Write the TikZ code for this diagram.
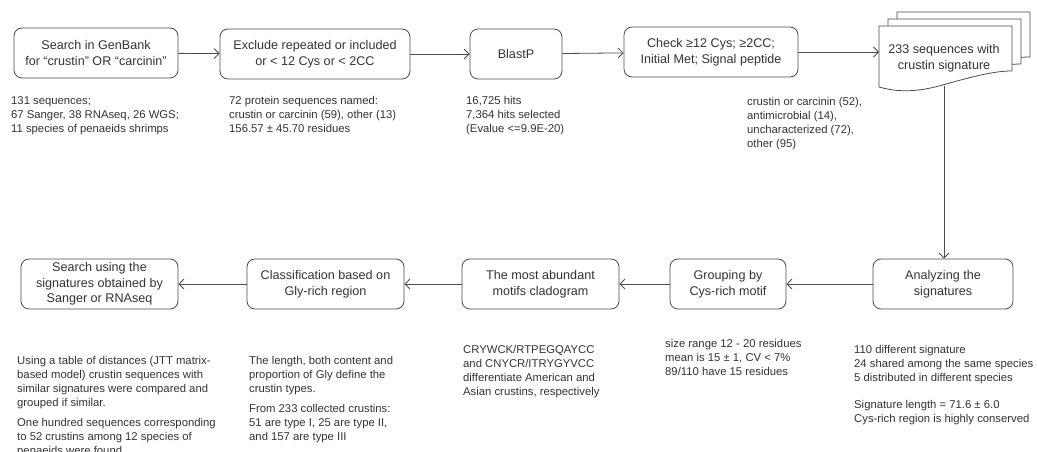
\documentclass[tikz,border=0pt]{standalone}
\usepackage{fontspec}
\setmainfont{Liberation Sans}
\usetikzlibrary{arrows.meta}
\begin{document}
\begin{tikzpicture}[x=1bp,y=-1bp,
  box/.style={draw=black!70, line width=0.8bp, rounded corners=8bp, align=center, text=black!80,
    font=\fontsize{12.6bp}{15.5bp}\selectfont, inner sep=0pt, minimum height=50bp},
  note/.style={anchor=north west, align=left, inner sep=0pt, text=black!80,
    font=\fontsize{11.3bp}{14bp}\selectfont},
  conn/.style={draw=black!70, line width=0.8bp, -{Straight Barb[length=5bp,width=10bp]}},
  page/.style={draw=black!70, line width=0.8bp, fill=white},
]
\useasboundingbox (0,0) rectangle (1037,452);

% top row
\node[box, minimum width=164bp] (b1) at (96,53) {Search in GenBank\\for “crustin” OR “carcinin”};
\node[box, minimum width=190bp] (b2) at (315,54) {Exclude repeated or included\\or < 12 Cys or < 2CC};
\node[box, minimum width=92bp] (b3) at (516,54) {BlastP};
\node[box, minimum width=174bp] (b4) at (711,52) {Check ≥12 Cys; ≥2CC;\\Initial Met;  Signal peptide};

% multi-document
\foreach \dx/\dy in {18/-14, 9/-7, 0/0}{
  \path[page, shift={(\dx,\dy)}] (879,26) -- (1012,26) -- (1012,71)
    .. controls (990,71) and (965,79) .. (935,87)
    .. controls (910,93) and (893,91) .. (879,87) -- cycle;
}
\node[align=center, text=black!80, font=\fontsize{12.6bp}{15.5bp}\selectfont, inner sep=0pt] (doc) at (944,58) {233 sequences with\\crustin signature};
\coordinate (docw) at (879,52);
\coordinate (docb) at (944,86);

% bottom row
\node[box, minimum width=157bp] (bA) at (99.5,284) {Search using the\\signatures obtained by\\Sanger or RNAseq};
\node[box, minimum width=157bp] (bB) at (325.5,284) {Classification based on\\Gly-rich region};
\node[box, minimum width=157bp] (bC) at (540.5,284) {The most abundant\\motifs cladogram};
\node[box, minimum width=116bp] (bD) at (728,284) {Grouping by\\Cys-rich motif};
\node[box, minimum width=140bp] (bE) at (943,284) {Analyzing the\\signatures};

% connectors
\draw[conn] (b1) -- (b2);
\draw[conn] (b2) -- (b3);
\draw[conn] (b3) -- (b4);
\draw[conn] (b4.east |- docw) -- (docw);
\draw[conn] (docb) -- (docb |- bE.north);
\draw[conn] (bE) -- (bD);
\draw[conn] (bD) -- (bC);
\draw[conn] (bC) -- (bB);
\draw[conn] (bB) -- (bA);

% notes
\node[note] (n1) at (11,96) {131 sequences;\\67 Sanger, 38 RNAseq, 26 WGS;\\11 species of penaeids shrimps};
\node[note] (n2) at (229,96) {72 protein sequences named:\\crustin or carcinin (59), other (13)\\156.57 ± 45.70 residues};
\node[note] (n3) at (466,96) {16,725 hits\\7,364 hits selected\\(Evalue  <=9.9E-20)};
\node[note] (n4) at (747,97) {crustin or carcinin (52),\\antimicrobial (14),\\uncharacterized (72),\\other (95)};

\node[note] (nA) at (17,356) {Using a table of distances (JTT  matrix-\\based model) crustin sequences with\\similar signatures were compared and\\grouped  if similar.\\[6bp]One hundred  sequences corresponding\\to 52 crustins among  12 species of\\penaeids were found};
\node[note] (nB) at (249,356) {The length, both content and\\proportion of Gly define the\\crustin types.\\[6bp]From 233 collected crustins:\\51 are type I, 25 are type II,\\and 157 are type III};
\node[note] (nC) at (463,345) {CRYWCK/RTPEGQAYCC\\and CNYCR/ITRYGYVCC\\differentiate  American and\\Asian crustins, respectively};
\node[note] (nD) at (665,339) {size range  12 - 20 residues\\mean is 15 ± 1, CV < 7\%\\89/110 have  15 residues};
\node[note] (nE) at (854,345) {110 different  signature\\24 shared among the same species\\5 distributed in different species\\[13bp]Signature length = 71.6 ± 6.0\\Cys-rich region is highly conserved};
\end{tikzpicture}
\end{document}
